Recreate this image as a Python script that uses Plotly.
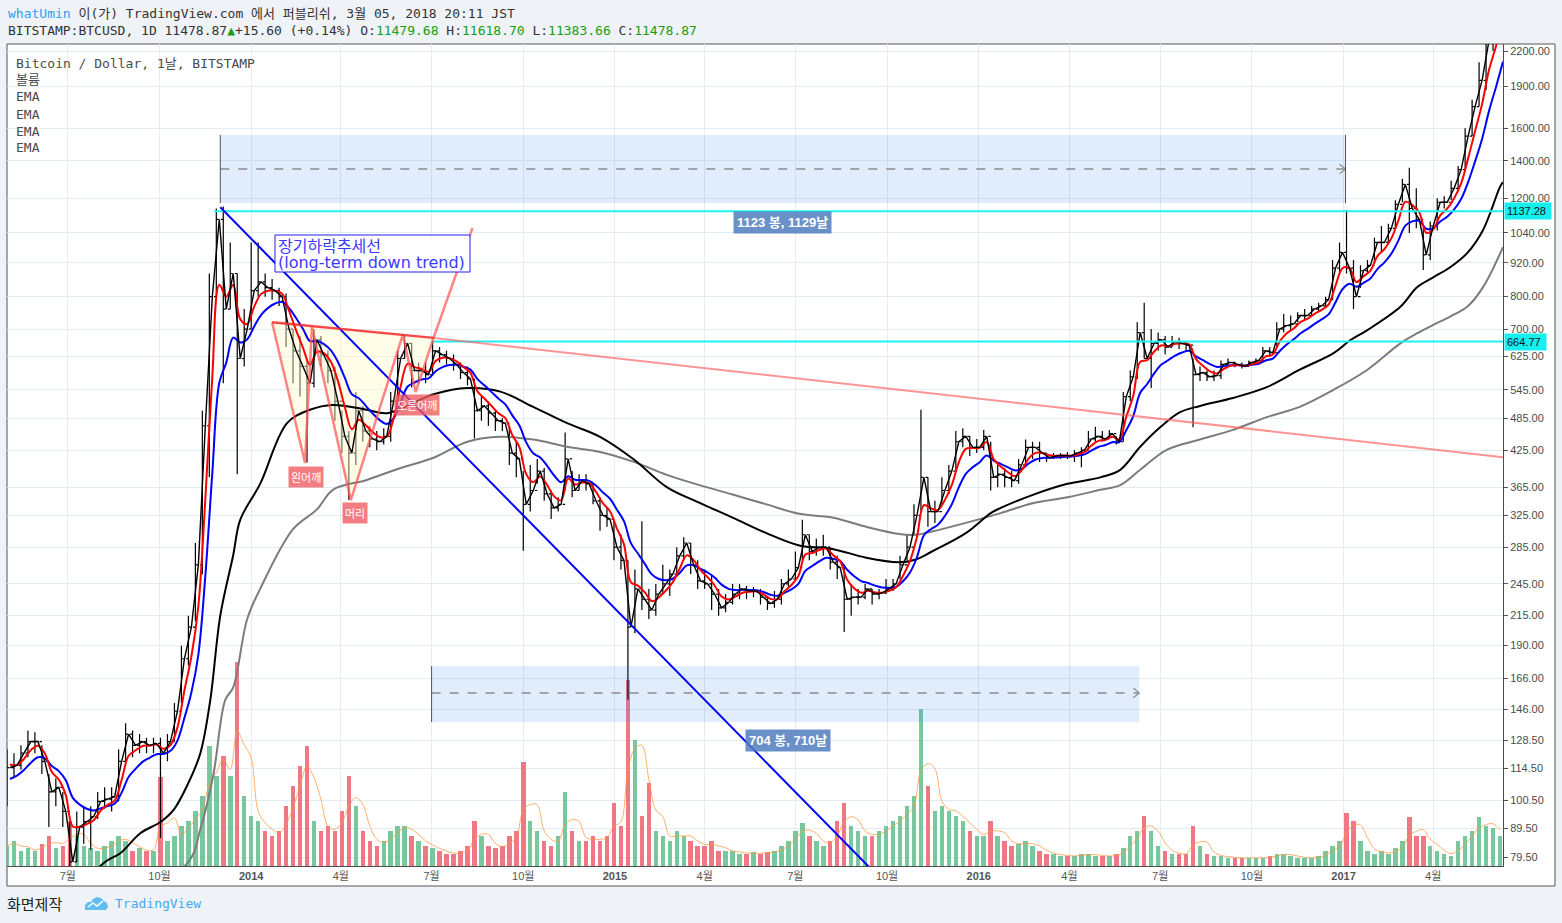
import math
import pandas as pd
import plotly.graph_objects as go

# ---------------- data (weekly samples) ----------------
START = "2013-05-01"
close = [115,116,122,128,128,118,104,106,96,
         78,90,92,94,
         100,101,102,118,132,126,128,126,127,
         122,128,145,180,205,
         265,470,800,1100,
         760,880,620,700,
         820,850,830,820,800,
         700,640,600,560,
         670,630,590,520,
         450,420,500,460,
         445,440,450,520,620,
         660,590,590,580,
         640,630,620,605,585,
         570,500,510,495,480,
         475,420,410,
         340,360,390,355,335,
         340,410,360,375,
         370,345,325,320,285,
         270,205,240,230,
         220,235,245,255,
         275,290,265,248,
         245,235,222,227,
         235,240,238,238,232,
         226,230,245,250,
         262,300,280,285,285,
         268,262,230,232,
         232,240,235,236,
         240,245,265,285,325,
         380,330,330,360,
         390,440,450,430,430,
         450,380,385,380,
         375,400,430,430,
         420,412,415,416,415,
         420,425,445,450,
         445,455,440,530,
         575,690,620,660,
         670,650,665,660,655,
         580,585,575,578,
         605,610,605,600,610,
         615,640,635,700,
         710,715,740,740,
         760,770,790,900,960,
         900,800,890,910,
         1000,1000,1060,1170,
         1270,1150,1100,950,
         1070,1180,1180,1250,
         1350,1550,1750,1950,
         2300,2450,2750]
high = [124,122,126,134,133,126,112,110,104,
        92,96,98,98,
        104,106,106,124,138,134,132,130,130,
        130,132,150,190,215,
        290,500,880,1150,
        1160,1000,880,760,
        1000,1000,880,860,830,
        810,700,680,620,
        700,680,640,600,
        500,460,540,510,
        470,460,465,540,640,
        680,660,610,610,
        665,650,640,630,610,
        600,570,530,520,500,
        485,470,440,
        390,400,410,395,360,
        350,457,390,385,
        385,370,350,335,320,
        300,270,260,317,
        240,245,265,260,
        285,297,290,270,
        260,255,240,235,
        245,245,243,242,240,
        232,238,250,260,
        280,319,300,295,300,
        285,275,265,245,
        240,245,240,240,
        250,250,275,300,340,
        502,380,345,380,
        400,460,465,450,445,
        462,440,400,395,
        390,410,444,440,
        440,420,420,420,422,
        425,430,460,468,
        460,462,450,540,
        590,720,780,700,
        690,680,680,675,665,
        620,600,590,590,
        615,620,612,610,615,
        620,650,650,720,
        745,740,750,760,
        770,780,800,930,1000,
        1143,930,910,930,
        1020,1070,1080,1190,
        1300,1360,1250,1060,
        1090,1200,1210,1290,
        1370,1600,1800,2100,
        2700,2600,2900]
low = [98,110,114,120,122,112,90,98,90,
       66,78,84,82,
       93,97,96,100,118,120,122,122,122,
       86,118,128,150,175,
       210,255,380,800,
       560,760,385,600,
       700,800,800,790,770,
       650,560,530,404,
       550,600,560,480,
       420,346,400,440,
       430,425,435,440,520,
       620,550,560,560,
       580,610,605,590,570,
       555,446,480,470,460,
       460,400,380,
       281,330,370,345,320,
       330,360,350,360,
       360,340,305,310,270,
       260,152,200,220,
       212,215,235,233,
       255,270,255,240,
       240,220,215,218,
       225,230,230,232,225,
       220,222,225,240,
       250,270,270,275,275,
       260,250,201,215,
       225,230,225,230,
       235,238,250,270,300,
       330,310,315,340,
       355,390,430,415,420,
       425,360,365,365,
       365,370,400,410,
       405,405,410,410,410,
       405,396,425,440,
       440,445,435,440,
       520,570,620,549,
       640,630,650,645,640,
       467,565,565,565,
       570,600,598,595,600,
       605,612,625,650,
       690,695,720,725,
       740,750,765,790,880,
       880,760,830,880,
       920,960,1000,1060,
       1180,1040,1060,893,
       930,1050,1150,1190,
       1240,1350,1550,1750,
       1874,2200,2500]
volume = [20,25,15,18,15,22,30,18,20,
          45,30,20,18,
          15,20,25,30,25,15,18,15,15,
          89,25,30,40,45,
          55,70,120,90,
          110,90,204,70,
          50,45,35,30,35,
          60,80,100,120,
          45,35,40,35,
          55,90,60,35,
          25,20,25,35,40,
          40,30,25,20,
          18,15,12,12,15,
          20,45,30,20,18,
          20,30,35,
          104,45,35,25,20,
          30,74,35,25,
          25,30,25,30,63,
          40,186,126,50,
          83,35,30,25,
          35,30,25,20,
          20,25,15,15,
          15,12,12,14,12,
          14,15,20,25,
          35,43,30,25,20,
          25,45,63,40,
          35,30,30,35,
          40,45,50,60,70,
          157,80,55,60,
          55,50,45,35,30,
          30,45,30,25,
          20,22,25,20,
          15,12,12,10,10,
          10,12,12,10,
          10,10,12,18,
          30,35,50,35,
          20,15,12,12,12,
          40,20,12,10,
          10,8,8,8,8,
          8,8,10,12,
          12,10,8,8,
          8,10,15,20,25,
          53,45,25,15,
          12,15,12,18,
          25,49,30,30,
          20,15,12,10,
          25,30,35,49,
          40,38,30]
first_open = 112

# short EMAs computed from the weekly closes: (length in days, starting value, colour)
short_ema_specs = [(50, 108, "#0000ff"), (20, 118, "#ff0000")]

# long EMAs
ema_black_dates = ["2013-07-01","2013-08-06","2013-08-23","2013-09-12","2013-10-02","2013-10-15","2013-10-29",
                   "2013-11-11","2013-11-21","2013-12-01","2013-12-14","2013-12-21","2014-01-10","2014-02-06",
                   "2014-03-01","2014-03-24","2014-04-27","2014-05-17","2014-07-03","2014-08-06","2014-09-08",
                   "2014-10-11","2014-11-14","2014-12-17","2015-01-20","2015-02-22","2015-03-27","2015-04-29",
                   "2015-06-02","2015-07-05","2015-08-07","2015-09-10","2015-10-13","2015-10-30","2015-11-15",
                   "2015-12-19","2016-01-13","2016-01-23","2016-02-25","2016-03-30","2016-05-02","2016-05-22",
                   "2016-06-11","2016-07-01","2016-07-21","2016-08-10","2016-09-12","2016-10-16","2016-11-18",
                   "2016-12-22","2017-01-08","2017-01-25","2017-02-27","2017-03-16","2017-04-01","2017-04-18",
                   "2017-05-05","2017-05-21","2017-06-07","2017-06-10"]
ema_black_values = [66,77.6,80.9,87.8,91.9,96.5,107,
                    122,152,215,276,319,370,475,
                    502,512,502,495,535,549,541,
                    508,475,449,409,365,342,322,
                    302,287,283,273,268,271,280,
                    302,328,335,354,370,380,392,
                    431,467,497,510,527,551,592,
                    634,669,697,767,832,866,903,
                    957,1053,1257,1282]
ema_gray_dates = ["2013-07-01","2013-10-29","2013-11-11","2013-11-24","2013-12-06","2013-12-14","2013-12-28",
                  "2014-01-10","2014-02-12","2014-03-08","2014-03-24","2014-04-27","2014-05-31","2014-07-03",
                  "2014-08-06","2014-09-08","2014-10-11","2014-11-14","2014-12-17","2015-01-20","2015-02-22",
                  "2015-03-27","2015-04-29","2015-06-02","2015-07-05","2015-08-07","2015-09-10","2015-10-13",
                  "2015-10-30","2015-11-15","2015-12-19","2016-01-23","2016-02-25","2016-03-30","2016-05-02",
                  "2016-05-22","2016-06-11","2016-07-08","2016-08-10","2016-09-12","2016-10-16","2016-11-18",
                  "2016-12-22","2017-01-25","2017-02-27","2017-03-16","2017-04-01","2017-04-18","2017-05-05",
                  "2017-05-21","2017-06-10"]
ema_gray_values = [58,77.6,89.2,111.5,152,160,212,
                   240,307,333,361,376,395,412,
                   440,449,444,431,422,405,384,
                   368,354,340,327,322,310,301,
                   300,304,315,328,342,350,361,
                   368,392,426,444,462,487,508,
                   545,592,660,688,712,737,767,
                   832,981]

x_tick_dates = ["2013-07-01","2013-10-01","2014-01-01","2014-04-01","2014-07-01","2014-10-01",
                "2015-01-01","2015-04-01","2015-07-01","2015-10-01","2016-01-01","2016-04-01",
                "2016-07-01","2016-10-01","2017-01-01","2017-04-01"]
x_tick_text = ["7월","10월","<b>2014</b>","4월","7월","10월","<b>2015</b>","4월","7월","10월",
               "<b>2016</b>","4월","7월","10월","<b>2017</b>","4월"]
y_ticks = [79.5,89.5,100.5,114.5,128.5,146,166,190,215,245,285,325,365,425,485,545,625,700,
           800,920,1040,1200,1400,1600,1900,2200]

# drawings (dates, prices)
hline_1 = ("2013-11-25", 1137.28)
hline_2 = ("2014-07-02", 664.77)
trend_blue = (["2013-12-01", "2015-10-01"], [1156, 70.8])
hs_points = (["2014-01-22","2014-02-24","2014-03-03","2014-04-11","2014-06-02","2014-06-15","2014-07-03","2014-08-11"],
             [720, 403, 706, 346, 683, 540, 675, 1061])
neck = (["2014-01-22", "2014-07-03"], [720, 675])
neck_ext = (["2014-07-03", "2017-06-10"], [675, 413])
range1 = ("2013-12-01", "2017-01-03", 1176, 1557, 1353)
range2 = ("2014-07-01", "2016-06-10", 138.7, 174.7, 156.4)

n = min(len(close), len(high), len(low), len(volume))
close, high, low, volume = close[:n], high[:n], low[:n], volume[:n]
dates = pd.date_range(START, periods=n, freq="7D")
close_dates = dates + pd.Timedelta(days=3)
opens = [first_open] + close[:-1]


def ema(vals, days, seed):
    a = 1 - (1 - 2 / (days + 1)) ** 7
    e, out = seed, []
    for v in vals:
        e = e + a * (v - e)
        out.append(e)
    return out


fig = go.Figure()

# volume (main hidden axis so it sits under everything)
vcol = ["rgba(98,190,140,0.85)" if c >= o else "rgba(236,96,110,0.85)" for o, c in zip(opens, close)]
fig.add_trace(go.Bar(x=dates, y=volume, marker=dict(color=vcol, line=dict(width=0)),
                     width=4.5 * 86400000, yaxis="y", xaxis="x"))
vma = pd.Series(volume).rolling(3, min_periods=1).mean()
fig.add_trace(go.Scatter(x=dates, y=vma, mode="lines", line=dict(color="rgba(255,150,60,0.75)", width=1, shape="spline"),
                         yaxis="y"))

# date range boxes
RECT_FILL = "rgba(40,130,240,0.14)"
for (d0, d1, p0, p1, pm) in (range1, range2):
    fig.add_trace(go.Scatter(x=[d0, d1, d1, d0, d0], y=[p0, p0, p1, p1, p0], fill="toself",
                             fillcolor=RECT_FILL, mode="lines", line=dict(width=0), yaxis="y2"))
    fig.add_trace(go.Scatter(x=[d0, d1], y=[pm, pm], mode="lines",
                             line=dict(color="#8a8a8a", width=1.5, dash="dash"), yaxis="y2"))
    tip = pd.Timestamp(d1)
    fig.add_trace(go.Scatter(x=[tip - pd.Timedelta(days=6), tip, tip - pd.Timedelta(days=6)],
                             y=[pm * 1.02, pm, pm / 1.02], mode="lines",
                             line=dict(color="#8a8a8a", width=1.2), yaxis="y2"))
    fig.add_trace(go.Scatter(x=[d0, d0], y=[p0, p1], mode="lines", line=dict(color="#555", width=1), yaxis="y2"))
fig.add_trace(go.Scatter(x=[range1[1], range1[1]], y=[range1[2], range1[3]], mode="lines",
                         line=dict(color="#555", width=1), yaxis="y2"))

# head & shoulders fills
hx, hy = hs_points
for tri in ((0, 1, 2), (2, 3, 4), (4, 5, 6)):
    fig.add_trace(go.Scatter(x=[hx[i] for i in tri] + [hx[tri[0]]], y=[hy[i] for i in tri] + [hy[tri[0]]],
                             fill="toself", fillcolor="rgba(255,249,205,0.45)", mode="lines",
                             line=dict(width=0), yaxis="y2"))

# EMAs
fig.add_trace(go.Scatter(x=ema_gray_dates, y=ema_gray_values, mode="lines",
                         line=dict(color="#7c7c7c", width=2, shape="spline"), yaxis="y2"))
fig.add_trace(go.Scatter(x=ema_black_dates, y=ema_black_values, mode="lines",
                         line=dict(color="#000000", width=2, shape="spline"), yaxis="y2"))
for days, seed, col in short_ema_specs:
    fig.add_trace(go.Scatter(x=close_dates, y=ema(close, days, seed), mode="lines",
                             line=dict(color=col, width=2, shape="spline"), yaxis="y2"))

# price
fig.add_trace(go.Ohlc(x=dates, open=opens, high=high, low=low, close=close, yaxis="y2",
                      increasing=dict(line=dict(color="black", width=1.2)),
                      decreasing=dict(line=dict(color="black", width=1.2)), tickwidth=0.35))
fig.add_trace(go.Scatter(x=close_dates, y=close, mode="lines", line=dict(color="black", width=1.4), yaxis="y2"))

# lines
for (d, p) in (hline_1, hline_2):
    fig.add_trace(go.Scatter(x=[d, "2017-06-10"], y=[p, p], mode="lines",
                             line=dict(color="#1ff0f0", width=2), yaxis="y2"))
fig.add_trace(go.Scatter(x=trend_blue[0], y=trend_blue[1], mode="lines", line=dict(color="#0000ff", width=2), yaxis="y2"))
fig.add_trace(go.Scatter(x=neck_ext[0], y=neck_ext[1], mode="lines", line=dict(color="rgba(255,90,90,0.65)", width=2), yaxis="y2"))
fig.add_trace(go.Scatter(x=hx, y=hy, mode="lines", line=dict(color="rgba(255,80,80,0.7)", width=2.5), yaxis="y2"))
fig.add_trace(go.Scatter(x=neck[0], y=neck[1], mode="lines", line=dict(color="rgba(245,40,40,0.85)", width=2.5), yaxis="y2"))

# ---------------- annotations ----------------
L = math.log10
W, H = 1496.0, 822.0


def px(xp):
    return (xp - 7) / W


def py(yp):
    return (866 - yp) / H


MONO = "DejaVu Sans Mono, Noto Sans CJK KR"
G = "#169c16"
ann = []
ann.append(dict(xref="paper", yref="paper", x=px(6), y=py(14), xanchor="left", yanchor="middle", showarrow=False,
                text='<span style="color:#2e9ef0">whatUmin</span> 이(가) TradingView.com 에서 퍼블리쉬, 3월 05, 2018 20:11 JST',
                font=dict(family=MONO, size=13, color="#333")))
ann.append(dict(xref="paper", yref="paper", x=px(6), y=py(31), xanchor="left", yanchor="middle", showarrow=False,
                text=('BITSTAMP:BTCUSD, 1D 11478.87<span style="color:%s">▲</span>+15.60 (+0.14%%) '
                      'O:<span style="color:%s">11479.68</span> H:<span style="color:%s">11618.70</span> '
                      'L:<span style="color:%s">11383.66</span> C:<span style="color:%s">11478.87</span>') % (G, G, G, G, G),
                font=dict(family=MONO, size=13, color="#333")))
for i, t in enumerate(["Bitcoin / Dollar, 1날, BITSTAMP", "볼륨", "EMA", "EMA", "EMA", "EMA"]):
    ann.append(dict(xref="paper", yref="paper", x=px(14), y=py(63 + 17 * i), xanchor="left", yanchor="middle",
                    showarrow=False, text=t, font=dict(family=MONO, size=13, color="#4a4a4a")))
ann.append(dict(xref="paper", yref="paper", x=px(5), y=py(903), xanchor="left", yanchor="middle", showarrow=False,
                text="화면제작", font=dict(family="Noto Sans CJK KR", size=15, color="#222")))
ann.append(dict(xref="paper", yref="paper", x=px(113), y=py(903), xanchor="left", yanchor="middle", showarrow=False,
                text="TradingView", font=dict(family=MONO, size=13, color="#3fa9f5")))
for lab, p in (("1137.28", 1137.28), ("664.77", 664.77)):
    ann.append(dict(xref="paper", yref="y2", x=1.0, y=L(p), xanchor="left", yanchor="middle", xshift=1,
                    showarrow=False, text=lab + " ", bgcolor="#14f0f0", borderpad=2,
                    font=dict(family="Liberation Sans", size=11, color="#111")))
for lab, d, p in (("왼어깨", "2014-02-25", 380), ("머리", "2014-04-15", 328), ("오른어깨", "2014-06-16", 512)):
    ann.append(dict(xref="x", yref="y2", x=d, y=L(p), showarrow=False, text=lab, bgcolor="rgba(240,90,95,0.78)",
                    borderpad=2, font=dict(family="Noto Sans CJK KR", size=11, color="white")))
for lab, d, p in (("1123 봉, 1129날", "2015-06-18", 1087), ("704 봉, 710날", "2015-06-24", 128.3)):
    ann.append(dict(xref="x", yref="y2", x=d, y=L(p), showarrow=False, text="<b>%s</b>" % lab,
                    bgcolor="rgba(80,125,190,0.85)", borderpad=3,
                    font=dict(family="Liberation Sans, Noto Sans CJK KR", size=13, color="white")))
# text box (box as shape, text as two lines)
for t, yy in (("장기하락추세선", 246), ("(long-term down trend)", 262)):
    ann.append(dict(xref="paper", yref="paper", x=px(276), y=py(yy), xanchor="left", yanchor="middle",
                    showarrow=False, text=t,
                    font=dict(family="DejaVu Sans, Noto Sans CJK KR", size=16, color="#3a3aff")))


def path_from(points):
    s = "M %.5f,%.5f " % (px(points[0][0]), py(points[0][1]))
    for (a, b) in points[1:]:
        s += "L %.5f,%.5f " % (px(a), py(b))
    return s + "Z"


cloud = [(85, 910), (85, 905), (88, 902), (91, 902), (93, 899), (97, 897), (101, 898), (104, 901),
         (107, 903), (108, 907), (106, 910)]
shapes = [
    dict(type="rect", xref="paper", yref="paper", x0=0, x1=px(1555), y0=py(886), y1=1.0, fillcolor="white",
         line=dict(color="#555", width=1), layer="below"),
    dict(type="rect", xref="paper", yref="paper", x0=px(275), x1=px(470), y0=py(272), y1=py(235),
         fillcolor="white", line=dict(color="#2020ee", width=1), layer="above"),
    dict(type="path", xref="paper", yref="paper", path=path_from(cloud), fillcolor="#62bdf0",
         line=dict(width=0), layer="above"),
    dict(type="path", xref="paper", yref="paper",
         path="M %.5f,%.5f L %.5f,%.5f L %.5f,%.5f L %.5f,%.5f" % (px(88), py(907), px(93), py(903), px(97), py(906), px(103), py(901)),
         line=dict(color="white", width=1.5), layer="above"),
]

fig.update_layout(
    width=1562, height=923, margin=dict(l=7, r=59, t=44, b=57),
    paper_bgcolor="#eff2f6", plot_bgcolor="white", showlegend=False, hovermode=False,
    bargap=0,
    xaxis=dict(type="date", range=["2013-05-01", "2017-06-10"], tickvals=x_tick_dates, ticktext=x_tick_text,
               showgrid=True, gridcolor="#e3ecf3", gridwidth=1, showline=True, linecolor="#4d4d4d", linewidth=1,
               ticks="", zeroline=False, rangeslider=dict(visible=False), fixedrange=True,
               tickfont=dict(family="Liberation Sans, Noto Sans CJK KR", size=11, color="#555")),
    yaxis=dict(range=[0, 822], visible=False, fixedrange=True, showgrid=False, zeroline=False),
    yaxis2=dict(type="log", range=[1.88456, 3.35500], overlaying="y", side="right", anchor="x",
                tickvals=y_ticks, ticktext=["%.2f" % v for v in y_ticks], showgrid=True, gridcolor="#e3ecf3",
                ticks="outside", ticklen=4, tickcolor="#555", showline=True, linecolor="#4d4d4d", linewidth=1,
                zeroline=False, fixedrange=True,
                tickfont=dict(family="Liberation Sans", size=11, color="#4b4b4b")),
    annotations=ann, shapes=shapes,
)

fig.write_html("out.html", config={"displayModeBar": False})
